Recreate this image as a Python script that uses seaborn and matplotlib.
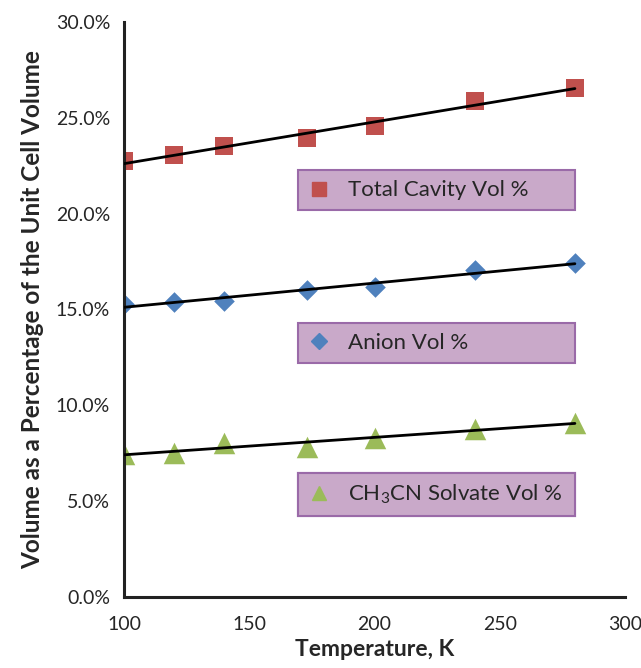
import numpy as np
import pandas as pd
import matplotlib
matplotlib.use("Agg")
import matplotlib.pyplot as plt
import seaborn as sns
from matplotlib.ticker import PercentFormatter
from matplotlib.lines import Line2D

# data (temperature in K, volume in %)
temps = [100, 120, 140, 173, 200, 240, 280]
total_cavity = [22.75, 23.06, 23.53, 23.95, 24.57, 25.88, 26.56]
anion = [15.27, 15.41, 15.46, 16.02, 16.16, 17.06, 17.41]
solvate = [7.46, 7.50, 8.03, 7.83, 8.30, 8.77, 9.07]

series_names = ["Total Cavity Vol %", "Anion Vol %", "CH$_3$CN Solvate Vol %"]
series_values = [total_cavity, anion, solvate]
colors = ["#C0504D", "#4F81BD", "#9BBB59"]
markers = ["s", "D", "^"]
marker_area = [185, 110, 240]
legend_msize = [10, 8, 10]
x_ticks = [100, 150, 200, 250, 300]
y_ticks = [0, 5, 10, 15, 20, 25, 30]

sns.set_style("white")
plt.rcParams["font.family"] = ["Lato", "DejaVu Sans"]
plt.rcParams["mathtext.fontset"] = "custom"
plt.rcParams["mathtext.rm"] = "Lato"
plt.rcParams["mathtext.it"] = "Lato:italic"

fig = plt.figure(figsize=(6.41, 6.68), dpi=100)
ax = fig.add_axes([124 / 641, 71 / 668, 501 / 641, 575 / 668])

for name, vals, c, m, s in zip(series_names, series_values, colors, markers, marker_area):
    sub = pd.DataFrame({"temp": temps, "vol": vals})
    sns.scatterplot(data=sub, x="temp", y="vol", color=c, marker=m, s=s,
                    linewidth=0, ax=ax, zorder=2)
    # linear trend line
    sns.regplot(data=sub, x="temp", y="vol", scatter=False, ci=None,
                color="black", line_kws={"linewidth": 2, "zorder": 3}, ax=ax)

ax.set_xlim(100, 300)
ax.set_ylim(0, 30)
ax.set_xticks(x_ticks)
ax.set_yticks(y_ticks)
ax.yaxis.set_major_formatter(PercentFormatter(decimals=1))
ax.tick_params(axis="both", direction="out", length=6, width=2, color="#222222",
               labelsize=14, pad=4)
ax.tick_params(axis="x", pad=8)
for side in ["top", "right"]:
    ax.spines[side].set_visible(False)
for side in ["left", "bottom"]:
    ax.spines[side].set_linewidth(2.2)
    ax.spines[side].set_color("#222222")

ax.set_xlabel("Temperature, K", fontsize=16.5, fontweight="bold", labelpad=4)
ax.set_ylabel("Volume as a Percentage of the Unit Cell Volume", fontsize=17.5,
              fontweight="bold", labelpad=8)

# one boxed legend per series
boxes = [(0.347, 0.675), (0.347, 0.410), (0.347, 0.146)]
for name, c, m, ms, (bx, by) in zip(series_names, colors, markers, legend_msize, boxes):
    h = Line2D([], [], linestyle="none", marker=m, color=c, markersize=ms)
    leg = ax.legend([h], [name], loc="center left", mode="expand",
                    bbox_to_anchor=(bx, by, 0.553, 0.064), fontsize=16,
                    frameon=True, fancybox=False, facecolor="#C9A9C9",
                    edgecolor="#9A6AA8", framealpha=1, borderpad=0.45,
                    handletextpad=0.8, handlelength=1.0, borderaxespad=0)
    leg.get_frame().set_linewidth(1.5)
    ax.add_artist(leg)

fig.savefig("out.png", dpi=100)
